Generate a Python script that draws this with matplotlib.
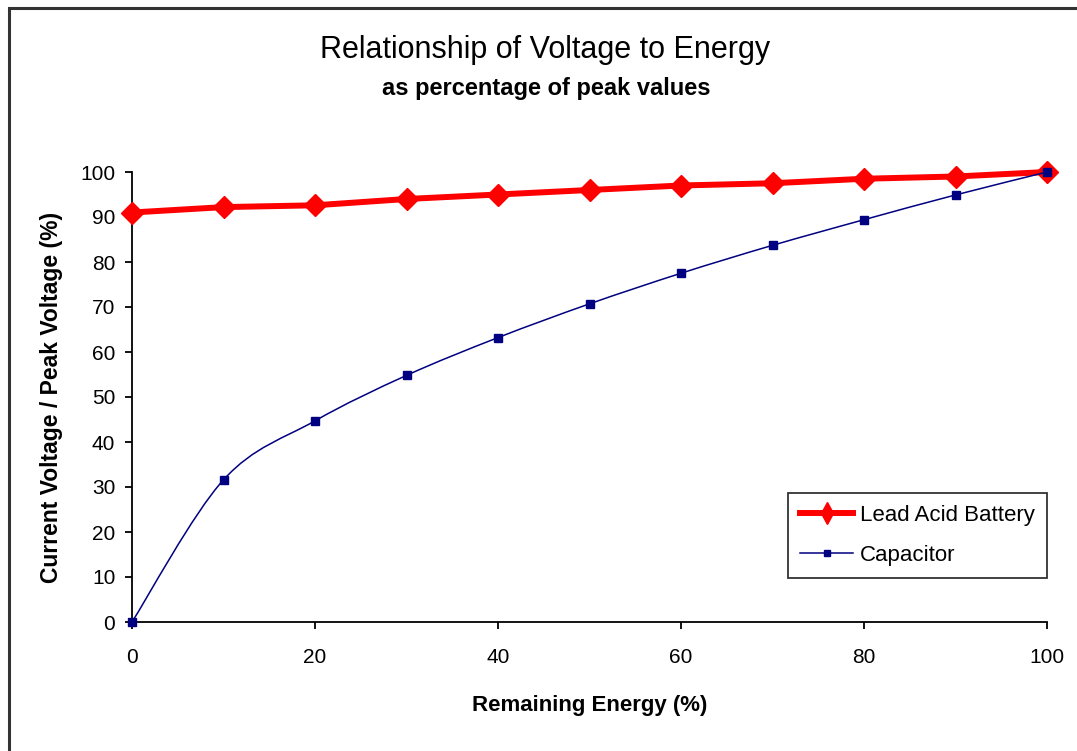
import numpy as np
import matplotlib
matplotlib.use("Agg")
import matplotlib.pyplot as plt
from matplotlib.path import Path
from matplotlib.patches import PathPatch
from matplotlib.lines import Line2D

plt.rcParams['font.family'] = ['Liberation Sans', 'DejaVu Sans']

# data
energy = [0, 10, 20, 30, 40, 50, 60, 70, 80, 90, 100]
battery = [91, 92.2, 92.6, 94, 95, 96, 97, 97.5, 98.5, 99, 100]
capacitor = [0, 31.6, 44.7, 54.8, 63.2, 70.7, 77.5, 83.7, 89.4, 94.9, 100]

RED = '#FF0000'
NAVY = '#000080'


def smooth_path(xs, ys):
    # excel style smoothed line: cubic bezier between the points
    pts = np.column_stack([xs, ys]).astype(float)
    verts = [pts[0]]
    codes = [Path.MOVETO]
    n = len(pts)
    for i in range(n - 1):
        p0 = pts[max(i - 1, 0)]
        p1 = pts[i]
        p2 = pts[i + 1]
        p3 = pts[min(i + 2, n - 1)]
        verts += [p1 + (p2 - p0) / 6, p2 - (p3 - p1) / 6, p2]
        codes += [Path.CURVE4] * 3
    return Path(verts, codes)


fig = plt.figure(figsize=(10.77, 7.51), dpi=100)
ax = fig.add_axes([132 / 1077, 129 / 751, 915 / 1077, 450 / 751])

# outer chart border (only top/left visible in the crop)
fig.add_artist(plt.Rectangle((9 / 1077, -0.05), 1.2, (751 - 8) / 751 + 0.05,
                             transform=fig.transFigure, fill=False,
                             edgecolor='#333333', linewidth=2.2, clip_on=False))

ax.plot(energy, battery, color=RED, linewidth=4.3, marker='D', markersize=11,
        markeredgecolor=RED, markerfacecolor=RED, zorder=3, clip_on=False)

ax.add_patch(PathPatch(smooth_path(energy, capacitor), facecolor='none',
                       edgecolor=NAVY, linewidth=1.1, zorder=4))
ax.plot(energy, capacitor, linestyle='none', marker='s', markersize=5.5,
        color=NAVY, zorder=5, clip_on=False)

ax.set_xlim(0, 100)
ax.set_ylim(0, 100)
ax.set_xticks(range(0, 101, 20))
ax.set_yticks(range(0, 101, 10))
ax.spines['top'].set_visible(False)
ax.spines['right'].set_visible(False)
for s in ('left', 'bottom'):
    ax.spines[s].set_linewidth(1.3)
ax.tick_params(direction='out', length=5, width=1.3, labelsize=15)
ax.tick_params(axis='x', pad=14)
ax.tick_params(axis='y', pad=7)

ax.set_xlabel('Remaining Energy (%)', fontsize=16, fontweight='bold')
ax.set_ylabel('Current Voltage / Peak Voltage (%)', fontsize=16.5,
              fontweight='bold')
ax.xaxis.set_label_coords(0.5, -83 / 450)
ax.yaxis.set_label_coords(-80 / 915, 0.5)
ax.xaxis.label.set_va('center')
ax.yaxis.label.set_va('center')

fig.text(545 / 1077, 1 - 50 / 751, 'Relationship of Voltage to Energy',
         ha='center', va='center', fontsize=22)
fig.text(546 / 1077, 1 - 88 / 751, 'as percentage of peak values',
         ha='center', va='center', fontsize=17, fontweight='bold')

handles = [
    Line2D([], [], color=RED, linewidth=4.3, marker='d', markersize=11),
    Line2D([], [], color=NAVY, linewidth=1.1, marker='s', markersize=5),
]
leg = ax.legend(handles, ['Lead Acid Battery', 'Capacitor'],
                loc='lower right', bbox_to_anchor=(1.0, 44 / 450),
                borderaxespad=0, fontsize=16, frameon=True, fancybox=False,
                handlelength=2.4, borderpad=0.55, labelspacing=0.85,
                handletextpad=0.3)
leg.get_frame().set_edgecolor('black')
leg.get_frame().set_linewidth(1.3)

fig.savefig('out.png', dpi=100, facecolor='white')
